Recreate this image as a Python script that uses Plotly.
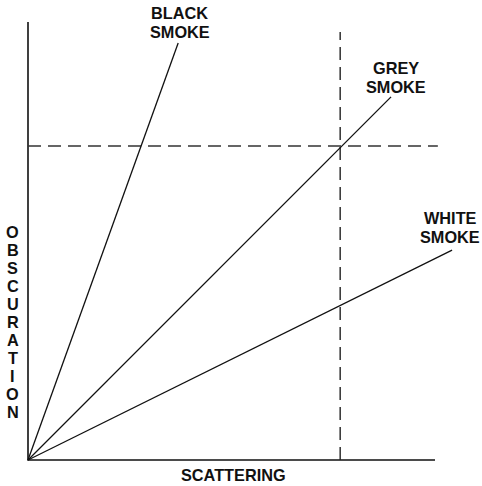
import plotly.graph_objects as go

# Data (arbitrary units: scattering 0..10, obscuration 0..10 on axes)
series_names = ["BLACK SMOKE", "GREY SMOKE", "WHITE SMOKE"]
series_end_x = [3.69, 8.92, 10.42]
series_end_y = [9.52, 8.29, 4.79]
label_x = [3.73, 9.04, 10.37]
label_y = [10.0, 8.73, 5.30]

ref_obscuration = 7.17   # horizontal dashed reference
ref_scattering = 7.67    # vertical dashed reference
hline_end_x = 10.07
vline_end_y = 9.77

axis_end_x = 10.0
axis_end_y = 10.0

x_title = "SCATTERING"
y_title = "OBSCURATION"

FONT = "Liberation Sans, Arial, sans-serif"
FS = 16.3

fig = go.Figure()

# axes
fig.add_trace(go.Scatter(x=[0, 0, axis_end_x], y=[axis_end_y, 0, 0], mode="lines",
                         line=dict(color="#111111", width=1.6), hoverinfo="skip"))
# dashed references
fig.add_trace(go.Scatter(x=[0, hline_end_x], y=[ref_obscuration, ref_obscuration], mode="lines",
                         line=dict(color="#333333", width=1.4, dash="13px,7px"), hoverinfo="skip"))
fig.add_trace(go.Scatter(x=[ref_scattering, ref_scattering], y=[0, vline_end_y], mode="lines",
                         line=dict(color="#222222", width=1.4, dash="13px,7px"), hoverinfo="skip"))
# smoke lines
for name, ex, ey in zip(series_names, series_end_x, series_end_y):
    fig.add_trace(go.Scatter(x=[0, ex], y=[0, ey], mode="lines", name=name,
                             line=dict(color="#111111", width=1.3), hoverinfo="skip"))

annotations = []
for name, lx, ly in zip(series_names, label_x, label_y):
    w1, w2 = name.split(" ")
    annotations.append(dict(x=lx, y=ly, xref="x", yref="y", text="<b>" + w1 + "</b>",
                            showarrow=False, yshift=9.5, font=dict(family=FONT, size=FS, color="#111")))
    annotations.append(dict(x=lx, y=ly, xref="x", yref="y", text="<b>" + w2 + "</b>",
                            showarrow=False, yshift=-9.5, font=dict(family=FONT, size=FS, color="#111")))

annotations.append(dict(x=5.06, y=-0.34, xref="x", yref="y", text="<b>" + x_title + "</b>",
                        showarrow=False, font=dict(family=FONT, size=FS, color="#111")))
for i, ch in enumerate(y_title):
    annotations.append(dict(x=-0.37, y=5.205, xref="x", yref="y", text="<b>" + ch + "</b>",
                            showarrow=False, yshift=-18 * i,
                            font=dict(family=FONT, size=FS, color="#111")))

fig.update_layout(
    width=482, height=486,
    margin=dict(l=0, r=0, t=0, b=0),
    paper_bgcolor="white", plot_bgcolor="white",
    showlegend=False,
    xaxis=dict(range=[-28 / 40.7, 454 / 40.7], visible=False, fixedrange=True),
    yaxis=dict(range=[-26 / 43.8, 460 / 43.8], visible=False, fixedrange=True),
    annotations=annotations,
)

fig.write_html("out.html",
               config={"displayModeBar": False, "staticPlot": True},
               post_script="document.body.style.margin='0';document.body.style.overflow='hidden';")
